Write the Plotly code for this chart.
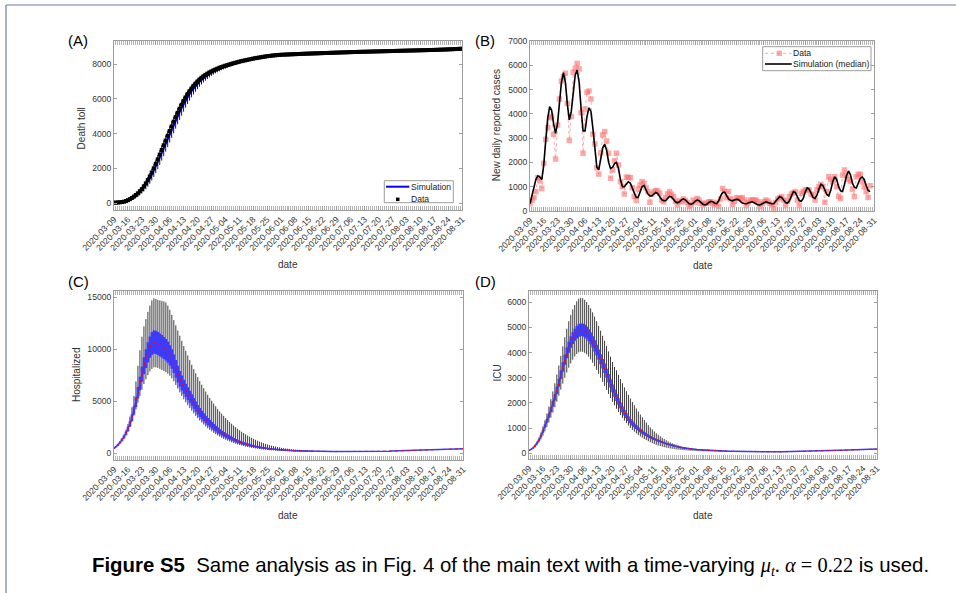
import pandas as pd
import plotly.graph_objects as go

W, H = 956, 593

# ---------------- data ----------------
start_date = "2020-03-09"
end_date = "2020-08-31"
tick_labels = ["2020-03-09", "2020-03-16", "2020-03-23", "2020-03-30", "2020-04-06", "2020-04-13",
               "2020-04-20", "2020-04-27", "2020-05-04", "2020-05-11", "2020-05-18", "2020-05-25",
               "2020-06-01", "2020-06-08", "2020-06-15", "2020-06-22", "2020-06-29", "2020-07-06",
               "2020-07-13", "2020-07-20", "2020-07-27", "2020-08-03", "2020-08-10", "2020-08-17",
               "2020-08-24", "2020-08-31"]

# (A) cumulative deaths
death_data = [20,25,30,40,55,75,110,160,220,290,
              370,460,560,680,800,960,1130,1320,1530,1760,
              2000,2260,2520,2790,3060,3330,3600,3880,4150,4420,
              4690,4950,5200,5440,5670,5890,6090,6280,6450,6610,
              6760,6890,7010,7120,7220,7310,7390,7460,7530,7590,
              7650,7700,7750,7800,7840,7880,7920,7955,7990,8025,
              8060,8090,8120,8150,8180,8205,8230,8255,8280,8305,
              8330,8350,8370,8390,8410,8430,8450,8465,8480,8495,
              8510,8520,8530,8540,8550,8555,8560,8565,8570,8575,
              8580,8585,8590,8595,8600,8605,8610,8614,8618,8622,
              8626,8630,8634,8638,8642,8646,8650,8654,8658,8662,
              8666,8670,8674,8678,8682,8686,8690,8694,8698,8702,
              8706,8710,8713,8716,8719,8722,8725,8728,8731,8734,
              8737,8740,8743,8746,8749,8752,8755,8758,8761,8764,
              8767,8770,8773,8776,8779,8782,8785,8788,8791,8794,
              8797,8800,8803,8806,8809,8812,8815,8818,8821,8824,
              8827,8830,8834,8838,8842,8846,8850,8855,8860,8865,
              8870,8876,8882,8888,8894,8900]
death_sim = [20,28,38,50,65,85,110,145,190,250,
             320,400,500,610,740,880,1040,1220,1420,1640,
             1870,2110,2360,2620,2890,3160,3430,3700,3970,4240,
             4500,4760,5010,5250,5480,5700,5910,6100,6280,6450,
             6600,6740,6870,6990,7100,7200,7290,7370,7450,7520,
             7580,7640,7690,7740,7790,7830,7870,7910,7950,7985,
             8020,8055,8085,8115,8145,8175,8200,8225,8250,8275,
             8300,8325,8345,8365,8385,8405,8425,8440,8455,8470,
             8485,8500,8512,8524,8535,8545,8550,8556,8561,8566,
             8571,8576,8581,8586,8591,8596,8601,8606,8610,8614,
             8618,8622,8626,8630,8634,8638,8642,8646,8650,8654,
             8658,8662,8666,8670,8674,8678,8682,8686,8690,8694,
             8698,8702,8706,8709,8712,8715,8718,8721,8724,8727,
             8730,8733,8736,8739,8742,8745,8748,8751,8754,8757,
             8760,8763,8766,8769,8772,8775,8778,8781,8784,8787,
             8790,8793,8796,8799,8802,8805,8808,8811,8814,8817,
             8820,8823,8827,8831,8835,8839,8843,8848,8853,8858,
             8863,8869,8875,8881,8887,8893]
death_err = [10,12,15,18,22,28,36,46,58,72,
             90,110,135,160,190,220,250,280,310,340,
             365,390,410,430,445,458,468,475,480,482,
             480,475,468,458,445,430,413,395,376,357,
             338,319,300,282,265,248,232,217,203,190,
             177,165,154,144,134,125,117,109,102,95,
             89,83,78,73,68,64,60,56,53,50,
             47,44,42,40,38,36,34,32,30,29,
             28,27,26,25,24,23,22,21,20,20,
             19,19,18,18,17,17,16,16,15,15]

# (B) new daily reported cases
case_data = [300,450,550,800,1370,1240,930,1960,2950,3430,
             3840,3890,3160,2140,3540,4610,5350,5530,5670,4430,
             2910,3890,5710,5880,6080,5850,4050,2380,4200,4890,
             4940,4610,3160,2760,1780,1520,2390,3130,3270,2880,
             2380,1350,1690,2070,2380,1890,1210,1000,700,1390,
             1390,1370,960,600,430,900,1070,1210,1140,950,
             800,360,700,800,840,820,730,450,380,550,
             700,800,690,590,400,250,410,380,500,430,
             350,180,250,450,350,520,450,320,250,320,
             320,380,380,300,250,350,180,500,930,800,
             550,800,500,270,400,550,520,520,550,450,
             220,350,450,450,450,450,380,180,300,380,
             450,400,320,250,110,350,490,550,590,450,
             220,400,590,700,750,800,450,220,730,800,
             870,870,870,700,660,450,870,1000,1100,1000,
             360,800,1410,1300,1210,1410,1000,600,520,1480,
             1690,1450,1300,1210,900,590,1410,1510,1510,1210,
             1000,800,560,1040]
case_sim = [300,650,1000,1300,1450,1400,1300,1900,2900,3800,
            4300,4150,3600,3200,3600,4600,5300,5700,5300,4400,
            3750,4100,5000,5600,5800,5300,4200,3300,3300,3900,
            4250,4100,3400,2500,1800,1700,2100,2600,2750,2500,
            2000,1750,1800,1950,2000,1750,1300,1000,1000,1100,
            1200,1150,950,700,560,560,800,1000,1050,900,
            700,620,620,700,760,720,600,470,420,420,
            520,600,580,480,380,340,380,460,500,460,
            380,300,280,320,400,450,420,340,280,250,
            280,350,400,380,320,300,420,620,760,780,
            650,500,440,420,450,480,470,400,330,310,
            300,330,370,380,340,280,250,250,300,360,
            380,350,310,300,300,380,500,590,560,450,
            350,330,420,620,800,760,580,430,400,520,
            780,950,900,700,560,520,650,900,1100,1050,
            850,680,620,850,1200,1410,1300,1000,830,800,
            1100,1450,1650,1500,1150,980,950,1150,1350,1400,
            1300,1050,850,800]

# (C) hospitalized: median, inner (50%) half-width, outer (95%) bounds
hosp_med = [450,600,780,1000,1250,1550,1900,2300,2800,3400,
            4100,4900,5800,6700,7600,8400,9100,9700,10200,10550,
            10700,10650,10550,10420,10280,10120,9950,9700,9400,9050,
            8600,8100,7600,7150,6750,6380,6040,5720,5420,5100,
            4780,4460,4170,3900,3660,3440,3230,3030,2850,2670,
            2500,2340,2190,2050,1920,1800,1690,1580,1480,1380,
            1290,1200,1120,1050,980,920,860,800,750,700,
            660,620,580,545,510,480,450,425,400,380,
            360,340,320,305,290,275,262,250,240,230,
            220,212,205,198,192,186,180,175,170,166,
            162,158,155,152,149,146,144,142,140,138,
            136,135,134,133,132,131,130,130,130,130,
            130,131,132,133,134,135,137,139,141,143,
            146,149,152,155,159,163,167,171,176,181,
            186,191,197,203,209,215,222,229,236,243,
            250,258,266,274,282,290,298,306,314,322,
            330,337,344,351,358,365,371,377,383,388,
            393,397,401,404,407,410]
hosp_in_err = [40,55,70,90,115,145,180,220,270,330,
               400,480,560,650,740,820,900,970,1030,1080,
               1110,1120,1110,1100,1080,1060,1040,1010,980,940,
               900,850,800,760,720,680,640,610,580,550,
               520,490,460,435,410,385,365,345,325,305,
               290,275,260,245,230,218,206,195,184,174,
               164,155,146,138,130,123,116,110,104,98,
               93,88,83,79,75,71,67,64,61,58,
               55,52,50,48,46,44,42,40,38,36,
               35,34,33,32,31,30,29,28,27,26]
hosp_out_hi = [500,680,900,1150,1450,1800,2250,2800,3500,4400,
               5500,6900,8400,9900,11200,12200,12900,13600,14200,14700,
               14900,14850,14750,14700,14650,14600,14500,14200,13800,13300,
               12800,12300,11800,11300,10800,10300,9850,9400,8950,8500,
               8080,7680,7300,6930,6580,6240,5920,5610,5310,5030,
               4760,4500,4250,4010,3790,3580,3370,3180,3000,2820,
               2650,2490,2340,2190,2050,1920,1800,1680,1570,1460,
               1360,1270,1180,1100,1020,950,880,820,760,710,
               660,615,575,535,500,470,440,415,390,370,
               350,330,315,300,285,272,260,250,240,230]
hosp_out_lo = [420,560,720,920,1150,1420,1750,2100,2550,3050,
               3600,4200,4850,5500,6100,6650,7100,7500,7850,8100,
               8250,8250,8200,8100,8000,7900,7800,7650,7450,7200,
               6900,6550,6200,5850,5500,5180,4880,4600,4330,4070,
               3820,3580,3350,3130,2930,2740,2560,2390,2230,2080,
               1940,1810,1690,1580,1470,1370,1280,1190,1110,1030,
               960,890,830,770,720,670,620,580,540,500,
               470,440,410,380,355,330,310,290,272,256,
               240,226,214,203,193,184,176,169,162,156,
               150,145,140,136,132,128,125,122,119,116]

# (D) ICU
icu_med = [110,150,210,290,390,520,680,870,1080,1290,
           1500,1730,1970,2220,2500,2800,3120,3430,3720,3990,
           4220,4420,4580,4710,4810,4880,4910,4900,4860,4790,
           4690,4570,4430,4270,4100,3920,3740,3560,3380,3180,
           2980,2780,2580,2390,2220,2060,1900,1750,1610,1490,
           1380,1280,1190,1110,1040,970,900,840,790,740,
           690,645,605,570,535,500,470,440,410,385,
           360,335,312,292,273,256,240,225,212,200,
           189,179,170,161,153,146,139,133,127,121,
           116,111,106,102,98,95,92,89,86,83,
           81,79,77,75,73,71,70,68,67,66,
           65,64,63,62,61,60,60,59,59,58,
           58,58,58,58,58,58,59,59,60,60,
           61,62,63,64,65,66,67,69,71,73,
           75,77,79,81,83,86,89,92,95,98,
           101,104,107,110,113,116,119,122,125,128,
           131,134,137,140,143,146,149,151,153,155,
           157,159,161,163,165,167]
icu_in_err = [8,10,14,18,24,31,40,50,60,72,
              84,97,111,125,140,155,170,185,198,210,
              220,228,235,240,244,246,247,246,244,241,
              237,232,226,220,213,206,199,192,185,177,
              169,161,153,145,137,129,121,114,107,100,
              94,88,82,77,72,67,63,59,55,52,
              49,46,43,40,38,36,34,32,30,28,
              26,25,24,22,21,20,19,18,17,16,
              15,14,14,13,12,12,11,11,10,10,
              9,9,9,8,8,8,7,7,7,7]
icu_out_hi = [130,180,255,350,470,630,830,1060,1310,1580,
              1860,2150,2460,2780,3130,3490,3870,4250,4610,4950,
              5250,5500,5720,5890,6040,6140,6180,6160,6100,6010,
              5890,5760,5600,5430,5250,5060,4870,4670,4470,4260,
              4050,3840,3630,3430,3300,3120,2950,2780,2620,2470,
              2320,2180,2040,1910,1780,1660,1540,1430,1320,1220,
              1120,1030,950,870,800,735,675,620,570,520,
              475,435,400,370,342,316,292,270,252,236,
              223,211,200,190,180,171,163,156,149,143,
              137,131,126,121,116,112,108,104,101,98]
icu_out_lo = [95,125,170,235,315,420,550,700,870,1050,
              1230,1420,1620,1830,2050,2290,2530,2770,3000,3210,
              3400,3570,3720,3850,3950,4010,4040,4030,3990,3930,
              3840,3730,3600,3460,3310,3160,3000,2840,2680,2520,
              2360,2200,2050,1910,1770,1640,1520,1410,1300,1200,
              1100,1010,930,860,790,730,670,620,570,525,
              480,440,405,370,340,312,287,264,243,225,
              208,193,180,168,157,147,138,130,123,116,
              110,105,100,96,92,88,85,82,79,76,
              74,72,70,68,66,65,64,63,62,61]

for arr in (death_data, death_sim, hosp_med, icu_med):
    assert len(arr) == 176, len(arr)
for arr in (death_err, hosp_in_err, hosp_out_hi, hosp_out_lo, icu_in_err, icu_out_hi, icu_out_lo):
    assert len(arr) == 100, len(arr)
assert len(case_data) == 174 and len(case_sim) == 174

dates = pd.date_range(start_date, end_date, freq="D")
tick_dates = pd.to_datetime(tick_labels)

# ---------------- styling helpers ----------------
FONT = "Liberation Sans, Arial, sans-serif"
AX = "#9d9d9d"
TXT = "#333333"
PINK = "rgba(255,115,115,0.62)"

def px(x):
    return x / W

def py(y):
    return 1 - y / H

def xaxis_cfg(x0, x1, anchor):
    return dict(domain=[px(x0), px(x1)], anchor=anchor, type="date", automargin=False,
                range=[start_date, end_date],
                tickmode="array", tickvals=tick_dates, ticktext=tick_labels,
                tickangle=-45, tickfont=dict(family=FONT, size=8.6, color=TXT),
                ticks="inside", ticklen=4, tickcolor=AX, tickwidth=1,
                minor=dict(dtick=86400000, tick0=start_date, ticks="inside",
                           ticklen=4, tickcolor="#b4b4b4", tickwidth=1),
                showline=True, linecolor=AX, linewidth=1, mirror="ticks",
                showgrid=False, zeroline=False)

def yaxis_cfg(y0, y1, anchor, rng, vals):
    return dict(domain=[py(y1), py(y0)], anchor=anchor, range=rng, automargin=False,
                tickmode="array", tickvals=vals, ticktext=[str(v) for v in vals],
                tickfont=dict(family=FONT, size=8.6, color=TXT),
                ticks="inside", ticklen=3, tickcolor=AX,
                showline=True, linecolor=AX, linewidth=1, mirror="ticks",
                showgrid=False, zeroline=False)

fig = go.Figure()

# ---------------- (A) ----------------
nA = len(death_err)
fig.add_trace(go.Scatter(x=dates[:nA], y=death_sim[:nA], mode="markers",
                         marker=dict(size=1, color="rgba(0,0,0,0)"),
                         error_y=dict(type="data", array=death_err, color="#1a1a1a",
                                      thickness=1, width=0),
                         showlegend=False, hoverinfo="skip", xaxis="x", yaxis="y"))
fig.add_trace(go.Scatter(x=dates, y=death_sim, mode="lines", name="Simulation",
                         line=dict(color="#0000ff", width=2), xaxis="x", yaxis="y",
                         showlegend=False))
fig.add_trace(go.Scatter(x=dates, y=death_data, mode="markers", name="Data",
                         marker=dict(symbol="square", size=4, color="black"),
                         xaxis="x", yaxis="y", showlegend=False))

# ---------------- (B) ----------------
dB = dates[:len(case_data)]
fig.add_trace(go.Scatter(x=dB, y=case_data, mode="lines+markers", name="Data",
                         line=dict(color=PINK, width=1, dash="dot"),
                         marker=dict(symbol="square", size=5.5, color=PINK),
                         xaxis="x2", yaxis="y2", showlegend=False))
fig.add_trace(go.Scatter(x=dB, y=case_sim, mode="lines", name="Simulation (median)",
                         line=dict(color="black", width=1.6),
                         xaxis="x2", yaxis="y2", showlegend=False))

# ---------------- (C) and (D) ----------------
def band_panel(med, in_err, out_lo, out_hi, xa, ya):
    n = len(out_hi)
    up = [h - m for h, m in zip(out_hi, med[:n])]
    dn = [m - l for m, l in zip(med[:n], out_lo)]
    fig.add_trace(go.Scatter(x=dates[:n], y=med[:n], mode="markers",
                             marker=dict(size=1, color="rgba(0,0,0,0)"),
                             error_y=dict(type="data", symmetric=False, array=up, arrayminus=dn,
                                          color="#3c3c3c", thickness=1, width=0),
                             showlegend=False, hoverinfo="skip", xaxis=xa, yaxis=ya))
    fig.add_trace(go.Scatter(x=dates, y=med, mode="lines",
                             line=dict(color="#3c3cff", width=1.5),
                             showlegend=False, hoverinfo="skip", xaxis=xa, yaxis=ya))
    fig.add_trace(go.Scatter(x=dates[:len(in_err)], y=med[:len(in_err)], mode="markers",
                             marker=dict(size=1, color="rgba(0,0,0,0)"),
                             error_y=dict(type="data", array=in_err, color="#3c3cff",
                                          thickness=2.6, width=0),
                             showlegend=False, hoverinfo="skip", xaxis=xa, yaxis=ya))
    fig.add_trace(go.Scatter(x=dates, y=med, mode="lines",
                             line=dict(color="#ff0000", width=1.0, dash="dot"),
                             showlegend=False, hoverinfo="skip", xaxis=xa, yaxis=ya))

band_panel(hosp_med, hosp_in_err, hosp_out_lo, hosp_out_hi, "x3", "y3")
band_panel(icu_med, icu_in_err, icu_out_lo, icu_out_hi, "x4", "y4")

# ---------------- layout ----------------
fig.update_layout(
    template="none",
    width=W, height=H, margin=dict(l=0, r=0, t=0, b=0, pad=0, autoexpand=False),
    paper_bgcolor="white", plot_bgcolor="white", showlegend=False,
    font=dict(family=FONT, color=TXT),
    xaxis=xaxis_cfg(114, 462, "y"),
    yaxis=yaxis_cfg(41, 210, "x", [-404, 9344], [0, 2000, 4000, 6000, 8000]),
    xaxis2=xaxis_cfg(530, 874, "y2"),
    yaxis2=yaxis_cfg(41, 211, "x2", [0, 7000], [0, 1000, 2000, 3000, 4000, 5000, 6000, 7000]),
    xaxis3=xaxis_cfg(114, 463, "y3"),
    yaxis3=yaxis_cfg(290.7, 460, "x3", [-674, 15636], [0, 5000, 10000, 15000]),
    xaxis4=xaxis_cfg(529, 877, "y4"),
    yaxis4=yaxis_cfg(290.7, 459, "x4", [-226, 6461], [0, 1000, 2000, 3000, 4000, 5000, 6000]),
)

ann = []
shapes = []

def label(x, y, text, size, angle=0, color=TXT, xanchor="center"):
    ann.append(dict(x=px(x), y=py(y), xref="paper", yref="paper", text=text, showarrow=False,
                    textangle=angle, xanchor=xanchor, yanchor="middle", borderpad=0,
                    font=dict(family=FONT, size=size, color=color)))

def pline(x0, y0, x1, y1, color, width, dash="solid"):
    shapes.append(dict(type="line", xref="paper", yref="paper", x0=px(x0), y0=py(y0),
                       x1=px(x1), y1=py(y1), line=dict(color=color, width=width, dash=dash)))

def prect(x0, y0, x1, y1, fill, color, width):
    shapes.append(dict(type="rect", xref="paper", yref="paper", x0=px(x0), y0=py(y0),
                       x1=px(x1), y1=py(y1), fillcolor=fill, line=dict(color=color, width=width)))

for (x, y, t) in [(78, 40, "(A)"), (485, 40, "(B)"), (78, 281.7, "(C)"), (485, 281.7, "(D)")]:
    label(x, y, t, 15, color="black")

label(81.7, 128.7, "Death toll", 10, angle=-90)
label(497.3, 125, "New daily reported cases", 10, angle=-90)
label(76, 375, "Hospitalized", 10, angle=-90)
label(497.3, 373.3, "ICU", 10, angle=-90)
label(287.7, 265, "date", 10)
label(703.3, 265.7, "date", 10)
label(287.7, 515.7, "date", 10)
label(703.3, 515.7, "date", 10)

# legend (A)
prect(384.3, 180.7, 453.3, 202.7, "white", AX, 1)
pline(386, 186.7, 409.3, 186.7, "#0000ff", 2)
label(410, 186.7, "Simulation", 8.6, color="#222", xanchor="left")
prect(396, 197.6, 399.5, 201.1, "black", "black", 0)
label(410, 198.5, "Data", 8.6, color="#222", xanchor="left")

# legend (B)
prect(762.7, 46.7, 871, 70.7, "white", AX, 1)
pline(765, 53.3, 791.7, 53.3, PINK, 1, "dot")
prect(776.6, 50.6, 782, 56, PINK, PINK, 0)
label(792.3, 53.3, "Data", 8.6, color="#222", xanchor="left")
pline(765, 64, 791.7, 64, "black", 1.6)
label(792.3, 64, "Simulation (median)", 8.6, color="#222", xanchor="left")

caption = ("<b>Figure S5</b>  Same analysis as in Fig. 4 of the main text with a time-varying "
           "<span style='font-family:Liberation Serif, DejaVu Serif, serif'><i>μ<sub>t</sub></i>. "
           "<i>α</i> = 0.22</span> is used.")
label(91, 566, caption, 20.4, color="black", xanchor="left")

# outer figure frame
pline(6, 5, 6, 593, "#6a7fa0", 1.2)
pline(6, 5, 956, 5, "#6a7fa0", 1.2)

fig.update_layout(annotations=ann, shapes=shapes)

fig.write_html("out.html",
               config={"displayModeBar": False, "staticPlot": True},
               post_script="document.body.style.margin='0px';document.body.style.overflow='hidden';")
